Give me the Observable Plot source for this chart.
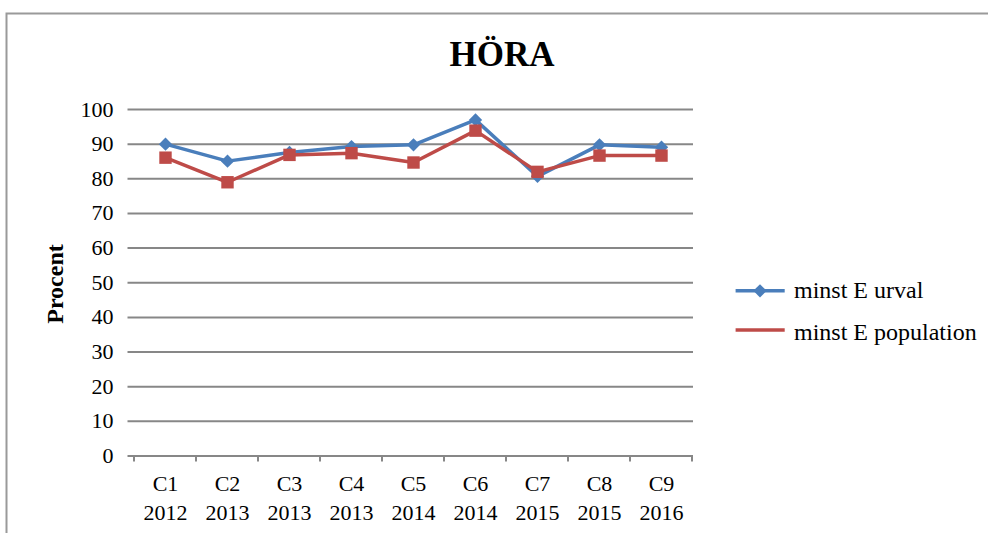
<!DOCTYPE html>
<html><head><meta charset="utf-8">
<script src="https://cdn.jsdelivr.net/npm/d3@7"></script>
<script src="https://cdn.jsdelivr.net/npm/@observablehq/plot@0.6"></script>
<style>
body{margin:0;background:#fff;}
svg, svg text{font-family:"Liberation Serif", serif !important;}
svg{display:block;}
</style>
</head><body><div id="chart"></div>
<script>
const title = "HÖRA";
const yLabel = "Procent";
const categories = ["C1","C2","C3","C4","C5","C6","C7","C8","C9"];
const years = ["2012","2013","2013","2013","2014","2014","2015","2015","2016"];
const urval = [90.0, 85.1, 87.6, 89.3, 89.8, 97.0, 80.7, 89.8, 89.1];
const population = [86.1, 79.0, 86.9, 87.4, 84.7, 93.9, 82.0, 86.7, 86.7];
const yTicks = [0,10,20,30,40,50,60,70,80,90,100];
const seriesNames = ["minst E urval", "minst E population"];
const colors = ["#4a7ebb", "#be4b48"];

const rows = (vals, name) => categories.map((c, i) => ({cat: c, value: vals[i], series: name}));
const dataU = rows(urval, seriesNames[0]);
const dataP = rows(population, seriesNames[1]);
const FONT = "Liberation Serif, serif";

const chart = Plot.plot({
  width: 988, height: 533,
  marginLeft: 133.5, marginRight: 295, marginTop: 109, marginBottom: 77.5,
  style: {fontFamily: FONT, background: "#fff", overflow: "visible", color: "#000"},
  x: {type: "band", domain: categories, paddingInner: 0, paddingOuter: 0, label: null},
  y: {domain: [0, 100], label: null},
  marks: [
    Plot.ruleY(yTicks, {stroke: "#878787", strokeWidth: 2, insetLeft: -6}),
    Plot.axisY(yTicks, {tickSize: 0, tickPadding: 20.5, fontSize: 22, label: null}),
    Plot.axisX({tickSize: 0, tickPadding: 15, fontSize: 22, lineHeight: 1.3, label: null,
      tickFormat: d => d + "\n" + years[categories.indexOf(d)]}),
    Plot.line(dataU, {x: "cat", y: "value", stroke: colors[0], strokeWidth: 3.5}),
    Plot.dot(dataU, {x: "cat", y: "value", symbol: "diamond2", r: 6, fill: colors[0]}),
    Plot.line(dataP, {x: "cat", y: "value", stroke: colors[1], strokeWidth: 3.5}),
    Plot.dot(dataP, {x: "cat", y: "value", symbol: "square", r: 7, fill: colors[1]})
  ]
});
document.getElementById("chart").appendChild(chart);

const svg = d3.select(chart);
const xs = chart.scale("x");
const ys = chart.scale("y");
const y0 = ys.apply(0);
const bounds = categories.map(c => xs.apply(c));
bounds.push(xs.apply(categories[categories.length - 1]) + xs.bandwidth);
svg.append("g").selectAll("line").data(bounds).join("line")
  .attr("x1", d => d).attr("x2", d => d)
  .attr("y1", y0).attr("y2", y0 + 6)
  .attr("stroke", "#878787").attr("stroke-width", 2);

// outer chart border
svg.append("path").attr("d", "M6.5,533V13.5H988").attr("fill", "none")
  .attr("stroke", "#9a9a9a").attr("stroke-width", 2);

// title
svg.append("text").text(title).attr("x", 502).attr("y", 66)
  .attr("text-anchor", "middle").attr("font-weight", "bold")
  .attr("font-size", 35);

// y label
svg.append("text").text(yLabel).attr("transform", "translate(63,284) rotate(-90)")
  .attr("text-anchor", "middle").attr("font-weight", "bold")
  .attr("font-size", 24);

// legend
const leg = svg.append("g").attr("font-size", 24).attr("text-anchor", "start");
const legY = [290.8, 330];
const legTextY = [298, 339.5];
seriesNames.forEach((name, i) => {
  leg.append("line").attr("x1", 735.6).attr("x2", 784.7).attr("y1", legY[i]).attr("y2", legY[i])
    .attr("stroke", colors[i]).attr("stroke-width", 3.5);
  leg.append("text").text(name).attr("x", 794).attr("y", legTextY[i]).attr("text-anchor", "start");
});
leg.append("path").attr("d", d3.symbol(d3.symbolDiamond2, Math.PI * 6 * 6)())
  .attr("transform", `translate(760,${legY[0]})`).attr("fill", colors[0]);
</script>
</body></html>
